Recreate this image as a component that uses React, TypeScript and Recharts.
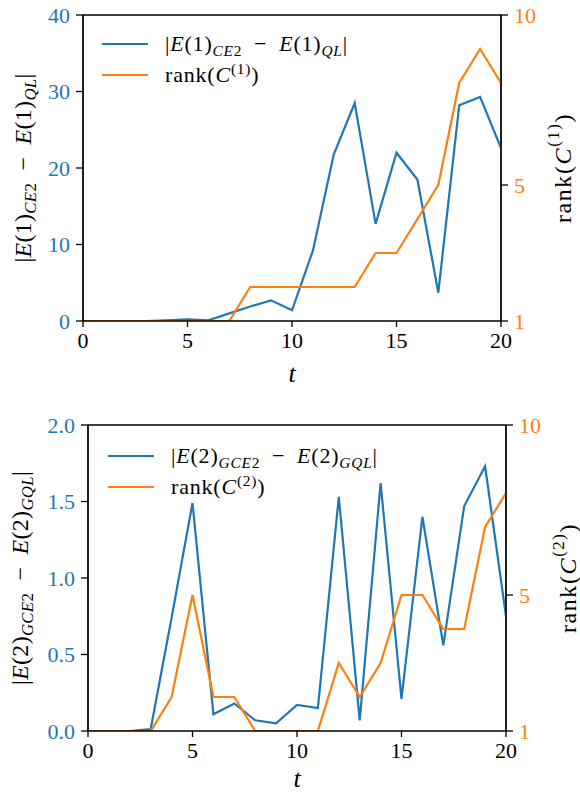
import React from 'react';
import { LineChart, Line, XAxis, YAxis, Legend, ReferenceLine } from 'recharts';

const T = [0, 1, 2, 3, 4, 5, 6, 7, 8, 9, 10, 11, 12, 13, 14, 15, 16, 17, 18, 19, 20];
const ERR1 = [0, 0, 0, 0, 0.1, 0.2, 0.1, 1.0, 1.9, 2.7, 1.4, 9.2, 21.8, 28.5, 12.7, 22.0, 18.5, 3.7, 28.2, 29.3, 22.6];
const RANK1 = [1, 1, 1, 1, 1, 1, 1, 1, 2, 2, 2, 2, 2, 2, 3, 3, 4, 5, 8, 9, 8];
const ERR2 = [0, 0, 0, 0.013, 0.74, 1.49, 0.11, 0.18, 0.07, 0.05, 0.17, 0.15, 1.53, 0.07, 1.62, 0.21, 1.4, 0.56, 1.47, 1.73, 0.75];
const RANK2 = [1, 1, 1, 1, 2, 5, 2, 2, 1, 1, 1, 1, 3, 2, 3, 5, 5, 4, 4, 7, 8];

const X_TICKS = [0, 5, 10, 15, 20];
const LEFT_TICKS_1 = [0, 10, 20, 30, 40];
const LEFT_TICKS_2 = [0, 0.5, 1.0, 1.5, 2.0];
const RIGHT_TICKS = [1, 5, 10];

const BLUE = '#1f77b4';
const ORANGE = '#ff7f0e';
const FONT = "'Liberation Serif', 'Times New Roman', 'DejaVu Serif', serif";

const data1 = T.map((t, i) => ({ t, err: ERR1[i], rank: RANK1[i] }));
const data2 = T.map((t, i) => ({ t, err: ERR2[i], rank: RANK2[i] }));

type Part = { t: string; i?: boolean; s?: 'sub' | 'sup' };

function spans(parts: Part[], fs: number) {
  let prev = 0;
  return parts.map((p, k) => {
    const shift = p.s === 'sub' ? 0.28 * fs : p.s === 'sup' ? -0.42 * fs : 0;
    const dy = shift - prev;
    prev = shift;
    return (
      <tspan key={k} dy={dy} fontStyle={p.i ? 'italic' : 'normal'} fontSize={p.s ? fs * 0.7 : fs} fontFamily={FONT}>
        {p.t}
      </tspan>
    );
  });
}

function htmlParts(parts: Part[]) {
  return parts.map((p, k) => {
    const inner = p.i ? <i>{p.t}</i> : <span>{p.t}</span>;
    if (p.s === 'sub') return <sub key={k} style={{ fontSize: '0.7em', lineHeight: 0 }}>{inner}</sub>;
    if (p.s === 'sup') return <sup key={k} style={{ fontSize: '0.7em', lineHeight: 0 }}>{inner}</sup>;
    return <React.Fragment key={k}>{inner}</React.Fragment>;
  });
}

const MINUS = '\u2002\u2212\u2002';

const ERR1_LABEL: Part[] = [
  { t: '|' }, { t: 'E', i: true }, { t: '(1)' }, { t: 'CE', i: true, s: 'sub' }, { t: '2', s: 'sub' },
  { t: MINUS }, { t: 'E', i: true }, { t: '(1)' }, { t: 'QL', i: true, s: 'sub' }, { t: '|' },
];
const RANK1_LABEL: Part[] = [{ t: 'rank(' }, { t: 'C', i: true }, { t: '(1)', s: 'sup' }, { t: ')' }];
const ERR2_LABEL: Part[] = [
  { t: '|' }, { t: 'E', i: true }, { t: '(2)' }, { t: 'GCE', i: true, s: 'sub' }, { t: '2', s: 'sub' },
  { t: MINUS }, { t: 'E', i: true }, { t: '(2)' }, { t: 'GQL', i: true, s: 'sub' }, { t: '|' },
];
const RANK2_LABEL: Part[] = [{ t: 'rank(' }, { t: 'C', i: true }, { t: '(2)', s: 'sup' }, { t: ')' }];

type PanelProps = {
  data: { t: number; err: number; rank: number }[];
  top: number;
  margin: { top: number; right: number; bottom: number; left: number };
  leftWidth: number;
  rightWidth: number;
  leftDomain: [number, number];
  leftTicks: number[];
  leftFmt: (v: number) => string;
  errLabel: Part[];
  rankLabel: Part[];
  leftLabelX: number;
  rightLabelX: number;
  xLabelY: number;
  legendPos: { left: number; top: number };
};

const SPINE = { stroke: '#000', strokeWidth: 1.3 };

function Panel(p: PanelProps) {
  const tickFont = { fontFamily: FONT, fontSize: 22 };
  const labelFs = 24;
  return (
    <div style={{ position: 'absolute', left: 0, top: p.top, fontFamily: FONT }}>
      <LineChart width={580} height={396} data={p.data} margin={p.margin} style={{ fontFamily: FONT }}>
        <XAxis
          dataKey="t"
          type="number"
          domain={[0, 20]}
          ticks={X_TICKS}
          allowDataOverflow
          height={50}
          tickSize={6}
          tickMargin={5}
          axisLine={SPINE}
          tickLine={SPINE}
          tick={{ ...tickFont, fill: '#000' }}
          label={{
            content: (lp: any) => {
              const vb = lp.viewBox || {};
              const cx = vb.x + vb.width / 2;
              return (
                <text x={cx} y={p.xLabelY} textAnchor="middle" fontFamily={FONT} fontSize={26} fontStyle="italic" fill="#000">
                  t
                </text>
              );
            },
          }}
        />
        <YAxis
          yAxisId="left"
          orientation="left"
          width={p.leftWidth}
          domain={p.leftDomain}
          ticks={p.leftTicks}
          allowDataOverflow
          tickFormatter={p.leftFmt}
          tickSize={7}
          tickMargin={6}
          axisLine={SPINE}
          tickLine={SPINE}
          tick={{ ...tickFont, fill: BLUE }}
          label={{
            content: (lp: any) => {
              const vb = lp.viewBox || {};
              const cy = vb.y + vb.height / 2;
              const cx = p.leftLabelX;
              return (
                <text
                  x={cx}
                  y={cy}
                  textAnchor="middle"
                  dominantBaseline="central"
                  fontFamily={FONT}
                  fontSize={labelFs}
                  letterSpacing={0.3}
                  fill="#000"
                  transform={`rotate(-90, ${cx}, ${cy})`}
                >
                  {spans(p.errLabel, labelFs)}
                </text>
              );
            },
          }}
        />
        <YAxis
          yAxisId="right"
          orientation="right"
          width={p.rightWidth}
          domain={[1, 10]}
          ticks={RIGHT_TICKS}
          allowDataOverflow
          tickSize={7}
          tickMargin={6}
          axisLine={SPINE}
          tickLine={SPINE}
          tick={{ ...tickFont, fill: ORANGE }}
          label={{
            content: (lp: any) => {
              const vb = lp.viewBox || {};
              const cy = vb.y + vb.height / 2;
              const cx = p.rightLabelX;
              return (
                <text
                  x={cx}
                  y={cy}
                  textAnchor="middle"
                  dominantBaseline="central"
                  fontFamily={FONT}
                  fontSize={labelFs}
                  letterSpacing={1.6}
                  fill="#000"
                  transform={`rotate(-90, ${cx}, ${cy})`}
                >
                  {spans(p.rankLabel, labelFs)}
                </text>
              );
            },
          }}
        />
        <ReferenceLine yAxisId="left" y={p.leftDomain[1]} stroke="#000" strokeWidth={1.3} ifOverflow="visible" />
        <ReferenceLine yAxisId="left" x={0} stroke="#000" strokeWidth={1.3} ifOverflow="visible" />
        <ReferenceLine yAxisId="left" x={20} stroke="#000" strokeWidth={1.3} ifOverflow="visible" />
        <Legend
          layout="vertical"
          align="center"
          verticalAlign="middle"
          wrapperStyle={{ left: p.legendPos.left, top: p.legendPos.top, width: 'auto', height: 'auto' }}
          content={() => (
            <div style={{ fontFamily: FONT, fontSize: 22, color: '#000', letterSpacing: 0.8 }}>
              {[
                { c: BLUE, parts: p.errLabel },
                { c: ORANGE, parts: p.rankLabel },
              ].map((row, k) => (
                <div key={k} style={{ display: 'flex', alignItems: 'center', height: 31, whiteSpace: 'nowrap' }}>
                  <svg width={46} height={4} style={{ marginRight: 17 }}>
                    <line x1={0} y1={2} x2={46} y2={2} stroke={row.c} strokeWidth={2.2} />
                  </svg>
                  <span style={{ fontFamily: FONT }}>{htmlParts(row.parts)}</span>
                </div>
              ))}
            </div>
          )}
        />
        <Line yAxisId="left" type="linear" dataKey="err" stroke={BLUE} strokeWidth={2.2} dot={false} isAnimationActive={false} />
        <Line yAxisId="right" type="linear" dataKey="rank" stroke={ORANGE} strokeWidth={2.2} dot={false} isAnimationActive={false} />
      </LineChart>
    </div>
  );
}

export default function App() {
  return (
    <div style={{ position: 'absolute', left: 0, top: 0, width: 580, height: 792, background: '#fff', fontFamily: FONT }}>
      <Panel
        data={data1}
        top={0}
        margin={{ top: 15, right: 0, bottom: 25, left: 0 }}
        leftWidth={83}
        rightWidth={79}
        leftDomain={[0, 40]}
        leftTicks={LEFT_TICKS_1}
        leftFmt={(v) => String(v)}
        errLabel={ERR1_LABEL}
        rankLabel={RANK1_LABEL}
        leftLabelX={23}
        rightLabelX={563}
        xLabelY={382}
        legendPos={{ left: 102, top: 28 }}
      />
      <Panel
        data={data2}
        top={396}
        margin={{ top: 29, right: 0, bottom: 11, left: 0 }}
        leftWidth={88}
        rightWidth={74}
        leftDomain={[0, 2]}
        leftTicks={LEFT_TICKS_2}
        leftFmt={(v) => v.toFixed(1)}
        errLabel={ERR2_LABEL}
        rankLabel={RANK2_LABEL}
        leftLabelX={20}
        rightLabelX={568}
        xLabelY={391}
        legendPos={{ left: 108, top: 44 }}
      />
    </div>
  );
}
